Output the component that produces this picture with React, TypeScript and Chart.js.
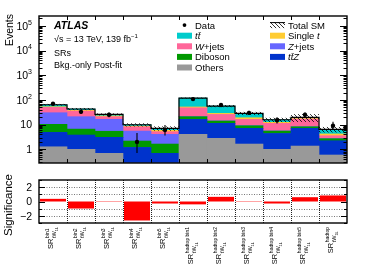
import React, { useEffect, useRef } from 'react';
import { Chart, registerables } from 'chart.js';
Chart.register(...registerables);

// ---------- data ----------
const binSup = ['bin1', 'bin2', 'bin3', 'bin4', 'bin5', 'hadtop bin1', 'hadtop bin2', 'hadtop bin3', 'hadtop bin4', 'hadtop bin5', 'hadtop'];
const labelMain = 'SR';
const labelSub = 'tW';
const labelSubSub = '1L';

const others = [1.27, 1.0, 0.69, 0.2, 0.15, 4.06, 2.79, 1.64, 1.0, 1.36, 0.59];
const ttZ = [3.6, 2.8, 2.37, 1.0, 0.54, 12.3, 8.5, 5.46, 3.4, 5.74, 1.64];
const diboson = [5.4, 2.8, 2.34, 0.97, 0.95, 4.6, 2.7, 1.9, 1.1, 1.1, 0.47];
const zJets = [20.1, 14.4, 11, 3.33, 2.42, 0.5, 0.3, 0.2, 0.1, 0.1, 0.05];
const wJets = [19.6, 14.6, 4.6, 2.7, 1.14, 26.5, 11.7, 7.2, 5.7, 8.6, 0.81];
const singleTop = [3, 2.4, 1.5, 0.5, 0.7, 4, 2.6, 2.6, 1.1, 0.9, 0.64];
const ttbar = [11, 5, 3.5, 1.2, 1.2, 67, 28, 9.6, 3.4, 2.0, 2.25];
const totalUnc = [0.08, 0.1, 0.1, 0.15, 0.2, 0.05, 0.1, 0.15, 0.2, 0.35, 0.25];

const dataCounts = [70, 33, 25, 2, 6, 108, 62, 30, 15, 25, 9];
const dataErrLow = [8.3, 5.7, 5.0, 1.29, 2.38, 10.4, 7.8, 5.4, 3.8, 5.0, 2.94];
const dataErrHigh = [9.4, 6.8, 6.1, 2.64, 3.58, 11.4, 8.9, 6.5, 5.0, 6.1, 4.11];

const significance = [0.37, -0.98, -0.05, -2.65, -0.28, -0.4, 0.65, 0.05, -0.28, 0.6, 0.84];

const yTickValues = [1, 10, 100, 1000, 10000, 100000];
const yTickLabels = ['1', '10', '10^2', '10^3', '10^4', '10^5'];
const sigTickValues = [-2, 0, 2];
const sigTickLabels = ['\u22122', '0', '2'];
const sigGridValues = [-2, -1, 1, 2];

const COL = {
  ttbar: '#00cccc',
  wJets: '#ff6699',
  diboson: '#009900',
  others: '#999999',
  singleTop: '#ffcc33',
  zJets: '#6666ff',
  ttZ: '#0033cc',
  sig: '#ff0000',
};

const FONT = '"Liberation Sans", Arial, Helvetica, sans-serif';
const f = (size: number, it = false, b = false) => `${it ? 'italic ' : ''}${b ? 'bold ' : ''}${size}px ${FONT}`;

type Part = { t: string; it?: boolean; b?: boolean; size: number; dy?: number };
function partsWidth(ctx: CanvasRenderingContext2D, parts: Part[]) {
  let w = 0;
  for (const p of parts) { ctx.font = f(p.size, p.it, p.b); w += ctx.measureText(p.t).width; }
  return w;
}
function drawParts(ctx: CanvasRenderingContext2D, parts: Part[], x: number, y: number) {
  let cx = x;
  for (const p of parts) {
    ctx.font = f(p.size, p.it, p.b);
    ctx.fillText(p.t, cx, y + (p.dy || 0));
    cx += ctx.measureText(p.t).width;
  }
  return cx - x;
}

function makeHatch(ctx: CanvasRenderingContext2D) {
  const c = document.createElement('canvas');
  c.width = 4; c.height = 4;
  const g = c.getContext('2d')!;
  g.strokeStyle = '#000';
  g.lineWidth = 0.8;
  g.beginPath();
  g.moveTo(0, 0); g.lineTo(4, 4);
  g.moveTo(-1, 3); g.lineTo(1, 5);
  g.moveTo(3, -1); g.lineTo(5, 1);
  g.stroke();
  return ctx.createPattern(c, 'repeat')!;
}

const totals = others.map((_, i) => others[i] + ttZ[i] + diboson[i] + zJets[i] + wJets[i] + singleTop[i] + ttbar[i]);

export default function App() {
  const topRef = useRef<HTMLCanvasElement>(null);
  const botRef = useRef<HTMLCanvasElement>(null);

  useEffect(() => {
    const topCanvas = topRef.current!;
    const botCanvas = botRef.current!;
    const hatch = makeHatch(topCanvas.getContext('2d')!);

    const topPlugin = {
      id: 'topDeco',
      beforeDatasetDraw(chart: any, args: any) {
        if (args.index !== 0) return;
        const { ctx, chartArea: a } = chart;
        const xs = chart.scales.x, ys = chart.scales.y;
        const half = (xs.getPixelForValue(1) - xs.getPixelForValue(0)) / 2;
        ctx.save();
        ctx.beginPath(); ctx.rect(a.left, a.top, a.right - a.left, a.bottom - a.top); ctx.clip();
        // hatched uncertainty
        ctx.fillStyle = hatch;
        totals.forEach((t, i) => {
          const xc = xs.getPixelForValue(i);
          const yt = ys.getPixelForValue(t * (1 + totalUnc[i]));
          const yb = ys.getPixelForValue(t * (1 - totalUnc[i]));
          ctx.fillRect(xc - half, yt, 2 * half, yb - yt);
        });
        // total outline
        ctx.strokeStyle = '#000';
        ctx.lineWidth = 1.2;
        ctx.beginPath();
        totals.forEach((t, i) => {
          const xc = xs.getPixelForValue(i);
          const yt = ys.getPixelForValue(t);
          if (i === 0) ctx.moveTo(xc - half, yt); else ctx.lineTo(xc - half, yt);
          ctx.lineTo(xc + half, yt);
        });
        ctx.stroke();
        // data error bars
        ctx.lineWidth = 1.1;
        ctx.beginPath();
        dataCounts.forEach((d, i) => {
          const xc = xs.getPixelForValue(i);
          ctx.moveTo(xc, ys.getPixelForValue(Math.max(d - dataErrLow[i], 1e-3)));
          ctx.lineTo(xc, ys.getPixelForValue(d + dataErrHigh[i]));
        });
        ctx.stroke();
        ctx.restore();
      },
      afterDraw(chart: any) {
        const { ctx, chartArea: a } = chart;
        const xs = chart.scales.x, ys = chart.scales.y;
        const half = (xs.getPixelForValue(1) - xs.getPixelForValue(0)) / 2;
        ctx.save();
        ctx.fillStyle = '#000';
        ctx.strokeStyle = '#000';
        // ticks
        ctx.lineWidth = 1;
        ctx.beginPath();
        for (let dec = -1; dec <= 5; dec++) {
          for (let k = 1; k <= 9; k++) {
            const v = k * Math.pow(10, dec);
            if (v < ys.min || v > ys.max) continue;
            const py = Math.round(ys.getPixelForValue(v)) + 0.5;
            const len = k === 1 ? 7 : 3.5;
            ctx.moveTo(a.left, py); ctx.lineTo(a.left + len, py);
            ctx.moveTo(a.right, py); ctx.lineTo(a.right - len, py);
          }
        }
        for (let i = 1; i < binSup.length; i++) {
          const xe = Math.round(xs.getPixelForValue(i) - half) + 0.5;
          ctx.moveTo(xe, a.bottom); ctx.lineTo(xe, a.bottom - 4);
          ctx.moveTo(xe, a.top); ctx.lineTo(xe, a.top + 4);
        }
        ctx.stroke();
        // frame
        ctx.lineWidth = 1.4;
        ctx.strokeRect(a.left, a.top, a.right - a.left, a.bottom - a.top);
        // tick labels
        ctx.textBaseline = 'alphabetic';
        ctx.textAlign = 'left';
        yTickValues.forEach((v, i) => {
          const py = ys.getPixelForValue(v);
          const [base, exp] = yTickLabels[i].split('^');
          const parts: Part[] = [{ t: base, size: 10.5 }];
          if (exp) parts.push({ t: exp, size: 7, dy: -5 });
          const w = partsWidth(ctx, parts);
          drawParts(ctx, parts, 32 - w, py + 3.8);
        });
        // axis title
        ctx.save();
        ctx.translate(10.5, 14);
        ctx.rotate(-Math.PI / 2);
        ctx.textAlign = 'right';
        ctx.textBaseline = 'middle';
        ctx.font = f(10.5);
        ctx.fillText('Events', 0, 0);
        ctx.restore();
        // labels
        drawParts(ctx, [{ t: 'ATLAS', size: 10.5, it: true, b: true }], 54, 28.7);
        drawParts(ctx, [{ t: '\u221As = 13 TeV, 139 fb', size: 9 }, { t: '\u22121', size: 6, dy: -4 }], 54, 41.5);
        drawParts(ctx, [{ t: 'SRs', size: 9 }], 54, 56);
        drawParts(ctx, [{ t: 'Bkg.-only Post-fit', size: 9 }], 54, 68.3);
        // legend
        const rowY = (k: number) => 28.5 + 10.6 * k;
        const ls = 9.5;
        const col1: { parts: Part[]; color?: string; marker?: boolean }[] = [
          { parts: [{ t: 'Data', size: ls }], marker: true },
          { parts: [{ t: 't\u0074\u0304', size: ls, it: true }], color: COL.ttbar },
          { parts: [{ t: 'W', size: ls, it: true }, { t: '+jets', size: ls }], color: COL.wJets },
          { parts: [{ t: 'Diboson', size: ls }], color: COL.diboson },
          { parts: [{ t: 'Others', size: ls }], color: COL.others },
        ];
        const col2: { parts: Part[]; color?: string; hatchSym?: boolean }[] = [
          { parts: [{ t: 'Total SM', size: ls }], hatchSym: true },
          { parts: [{ t: 'Single ', size: ls }, { t: 't', size: ls, it: true }], color: COL.singleTop },
          { parts: [{ t: 'Z', size: ls, it: true }, { t: '+jets', size: ls }], color: COL.zJets },
          { parts: [{ t: 't\u0074\u0304Z', size: ls, it: true }], color: COL.ttZ },
        ];
        col1.forEach((e, k) => {
          const by = rowY(k);
          const cy = by - 3.4;
          if (e.marker) {
            ctx.beginPath(); ctx.arc(184.5, cy, 1.9, 0, Math.PI * 2); ctx.fill();
          } else if (e.color) {
            ctx.fillStyle = e.color; ctx.fillRect(177, cy - 3, 15, 6); ctx.fillStyle = '#000';
          }
          drawParts(ctx, e.parts, 195, by);
        });
        col2.forEach((e, k) => {
          const by = rowY(k);
          const cy = by - 3.4;
          if (e.hatchSym) {
            ctx.fillStyle = hatch; ctx.fillRect(270, cy - 3, 15, 6); ctx.fillStyle = '#000';
            ctx.lineWidth = 1; ctx.beginPath(); ctx.moveTo(270, cy - 2.5); ctx.lineTo(285, cy - 2.5); ctx.stroke();
          } else if (e.color) {
            ctx.fillStyle = e.color; ctx.fillRect(270, cy - 3, 15, 6); ctx.fillStyle = '#000';
          }
          drawParts(ctx, e.parts, 288, by);
        });
        ctx.restore();
      },
    };

    const common = {
      animation: false as const,
      responsive: false,
      devicePixelRatio: 1,
      events: [] as any[],
    };

    const barDs = (label: string, data: number[], color: string) => ({
      type: 'bar' as const, label, data, backgroundColor: color, borderWidth: 0,
      categoryPercentage: 1, barPercentage: 1,
    });

    const top = new Chart(topCanvas, {
      type: 'bar',
      data: {
        labels: binSup,
        datasets: [
          {
            type: 'line', label: 'Data', data: dataCounts, showLine: false,
            pointRadius: 2.2, pointBackgroundColor: '#000', pointBorderColor: '#000', pointBorderWidth: 0,
            borderColor: '#000',
          } as any,
          barDs('Others', others, COL.others),
          barDs('ttZ', ttZ, COL.ttZ),
          barDs('Diboson', diboson, COL.diboson),
          barDs('Z+jets', zJets, COL.zJets),
          barDs('W+jets', wJets, COL.wJets),
          barDs('Single t', singleTop, COL.singleTop),
          barDs('ttbar', ttbar, COL.ttbar),
        ],
      },
      options: {
        ...common,
        layout: { padding: { left: 39, right: 43, top: 16, bottom: 9 } },
        plugins: { legend: { display: false }, tooltip: { enabled: false } },
        scales: {
          x: { display: false, stacked: true },
          y: { type: 'logarithmic', display: false, stacked: true, min: 0.28, max: 2.5e5 },
        },
      },
      plugins: [topPlugin],
    });

    const botPlugin = {
      id: 'botDeco',
      beforeDatasetsDraw(chart: any) {
        const { ctx, chartArea: a } = chart;
        const xs = chart.scales.x, ys = chart.scales.y;
        const half = (xs.getPixelForValue(1) - xs.getPixelForValue(0)) / 2;
        ctx.save();
        ctx.lineWidth = 1;
        ctx.strokeStyle = '#777';
        ctx.setLineDash([1, 1.5]);
        ctx.beginPath();
        sigGridValues.forEach((v) => {
          const py = Math.round(ys.getPixelForValue(v)) + 0.5;
          ctx.moveTo(a.left, py); ctx.lineTo(a.right, py);
        });
        ctx.stroke();
        ctx.strokeStyle = '#222';
        ctx.setLineDash([1, 1]);
        ctx.beginPath();
        for (let i = 1; i < binSup.length; i++) {
          const xe = Math.round(xs.getPixelForValue(i) - half) + 0.5;
          ctx.moveTo(xe, a.top); ctx.lineTo(xe, a.bottom);
        }
        ctx.stroke();
        ctx.restore();
      },
      afterDraw(chart: any) {
        const { ctx, chartArea: a } = chart;
        const xs = chart.scales.x, ys = chart.scales.y;
        ctx.save();
        ctx.fillStyle = '#000';
        ctx.strokeStyle = '#000';
        ctx.lineWidth = 1;
        ctx.beginPath();
        for (let v = -3; v <= 3; v++) {
          const py = Math.round(ys.getPixelForValue(v)) + 0.5;
          const len = v % 2 === 0 ? 6 : 3;
          ctx.moveTo(a.left, py); ctx.lineTo(a.left + len, py);
          ctx.moveTo(a.right, py); ctx.lineTo(a.right - len, py);
        }
        ctx.stroke();
        ctx.lineWidth = 1.4;
        ctx.strokeRect(a.left, a.top, a.right - a.left, a.bottom - a.top);
        // y tick labels
        ctx.font = f(10.5);
        ctx.textAlign = 'right';
        ctx.textBaseline = 'alphabetic';
        sigTickValues.forEach((v, i) => {
          ctx.fillText(sigTickLabels[i], 32, ys.getPixelForValue(v) + 3.8);
        });
        // axis title
        ctx.save();
        ctx.translate(8.5, 2);
        ctx.rotate(-Math.PI / 2);
        ctx.textAlign = 'right';
        ctx.textBaseline = 'middle';
        ctx.font = f(11.5);
        ctx.fillText('Significance', 0, 0);
        ctx.restore();
        // x labels
        ctx.textAlign = 'left';
        const yEnd = 227 - 172;
        binSup.forEach((sup, i) => {
          const xc = xs.getPixelForValue(i);
          ctx.save();
          ctx.translate(xc, yEnd);
          ctx.rotate(-Math.PI / 2);
          ctx.font = f(7.5); const wSR = ctx.measureText(labelMain).width;
          ctx.font = f(5); const wSup = ctx.measureText(sup).width;
          ctx.font = f(5.5); const wSub1 = ctx.measureText(labelSub).width;
          ctx.font = f(3.8); const wSub2 = ctx.measureText(labelSubSub).width;
          const len = wSR + 0.6 + Math.max(wSup, wSub1 + wSub2);
          const s = -len;
          ctx.font = f(7.5); ctx.fillText(labelMain, s, 0.3);
          ctx.font = f(5); ctx.fillText(sup, s + wSR + 0.6, -3.8);
          ctx.font = f(5.5); ctx.fillText(labelSub, s + wSR + 0.6, 2.8);
          ctx.font = f(3.8); ctx.fillText(labelSubSub, s + wSR + 0.6 + wSub1, 4.6);
          ctx.restore();
        });
        ctx.restore();
      },
    };

    const bot = new Chart(botCanvas, {
      type: 'bar',
      data: {
        labels: binSup,
        datasets: [
          {
            label: 'Significance', data: significance, backgroundColor: COL.sig, borderWidth: 0,
            categoryPercentage: 1, barPercentage: 0.93,
          },
        ],
      },
      options: {
        ...common,
        layout: { padding: { left: 39, right: 43, top: 8, bottom: 57 } },
        plugins: { legend: { display: false }, tooltip: { enabled: false } },
        scales: {
          x: { display: false },
          y: { type: 'linear', display: false, min: -3, max: 3 },
        },
      },
      plugins: [botPlugin],
    });

    return () => { top.destroy(); bot.destroy(); };
  }, []);

  return (
    <div style={{ position: 'fixed', left: 0, top: 0, width: 390, height: 280, background: '#fff' }}>
      <canvas ref={topRef} width={390} height={172} style={{ position: 'absolute', left: 0, top: 0, width: 390, height: 172 }} />
      <canvas ref={botRef} width={390} height={108} style={{ position: 'absolute', left: 0, top: 172, width: 390, height: 108 }} />
    </div>
  );
}
